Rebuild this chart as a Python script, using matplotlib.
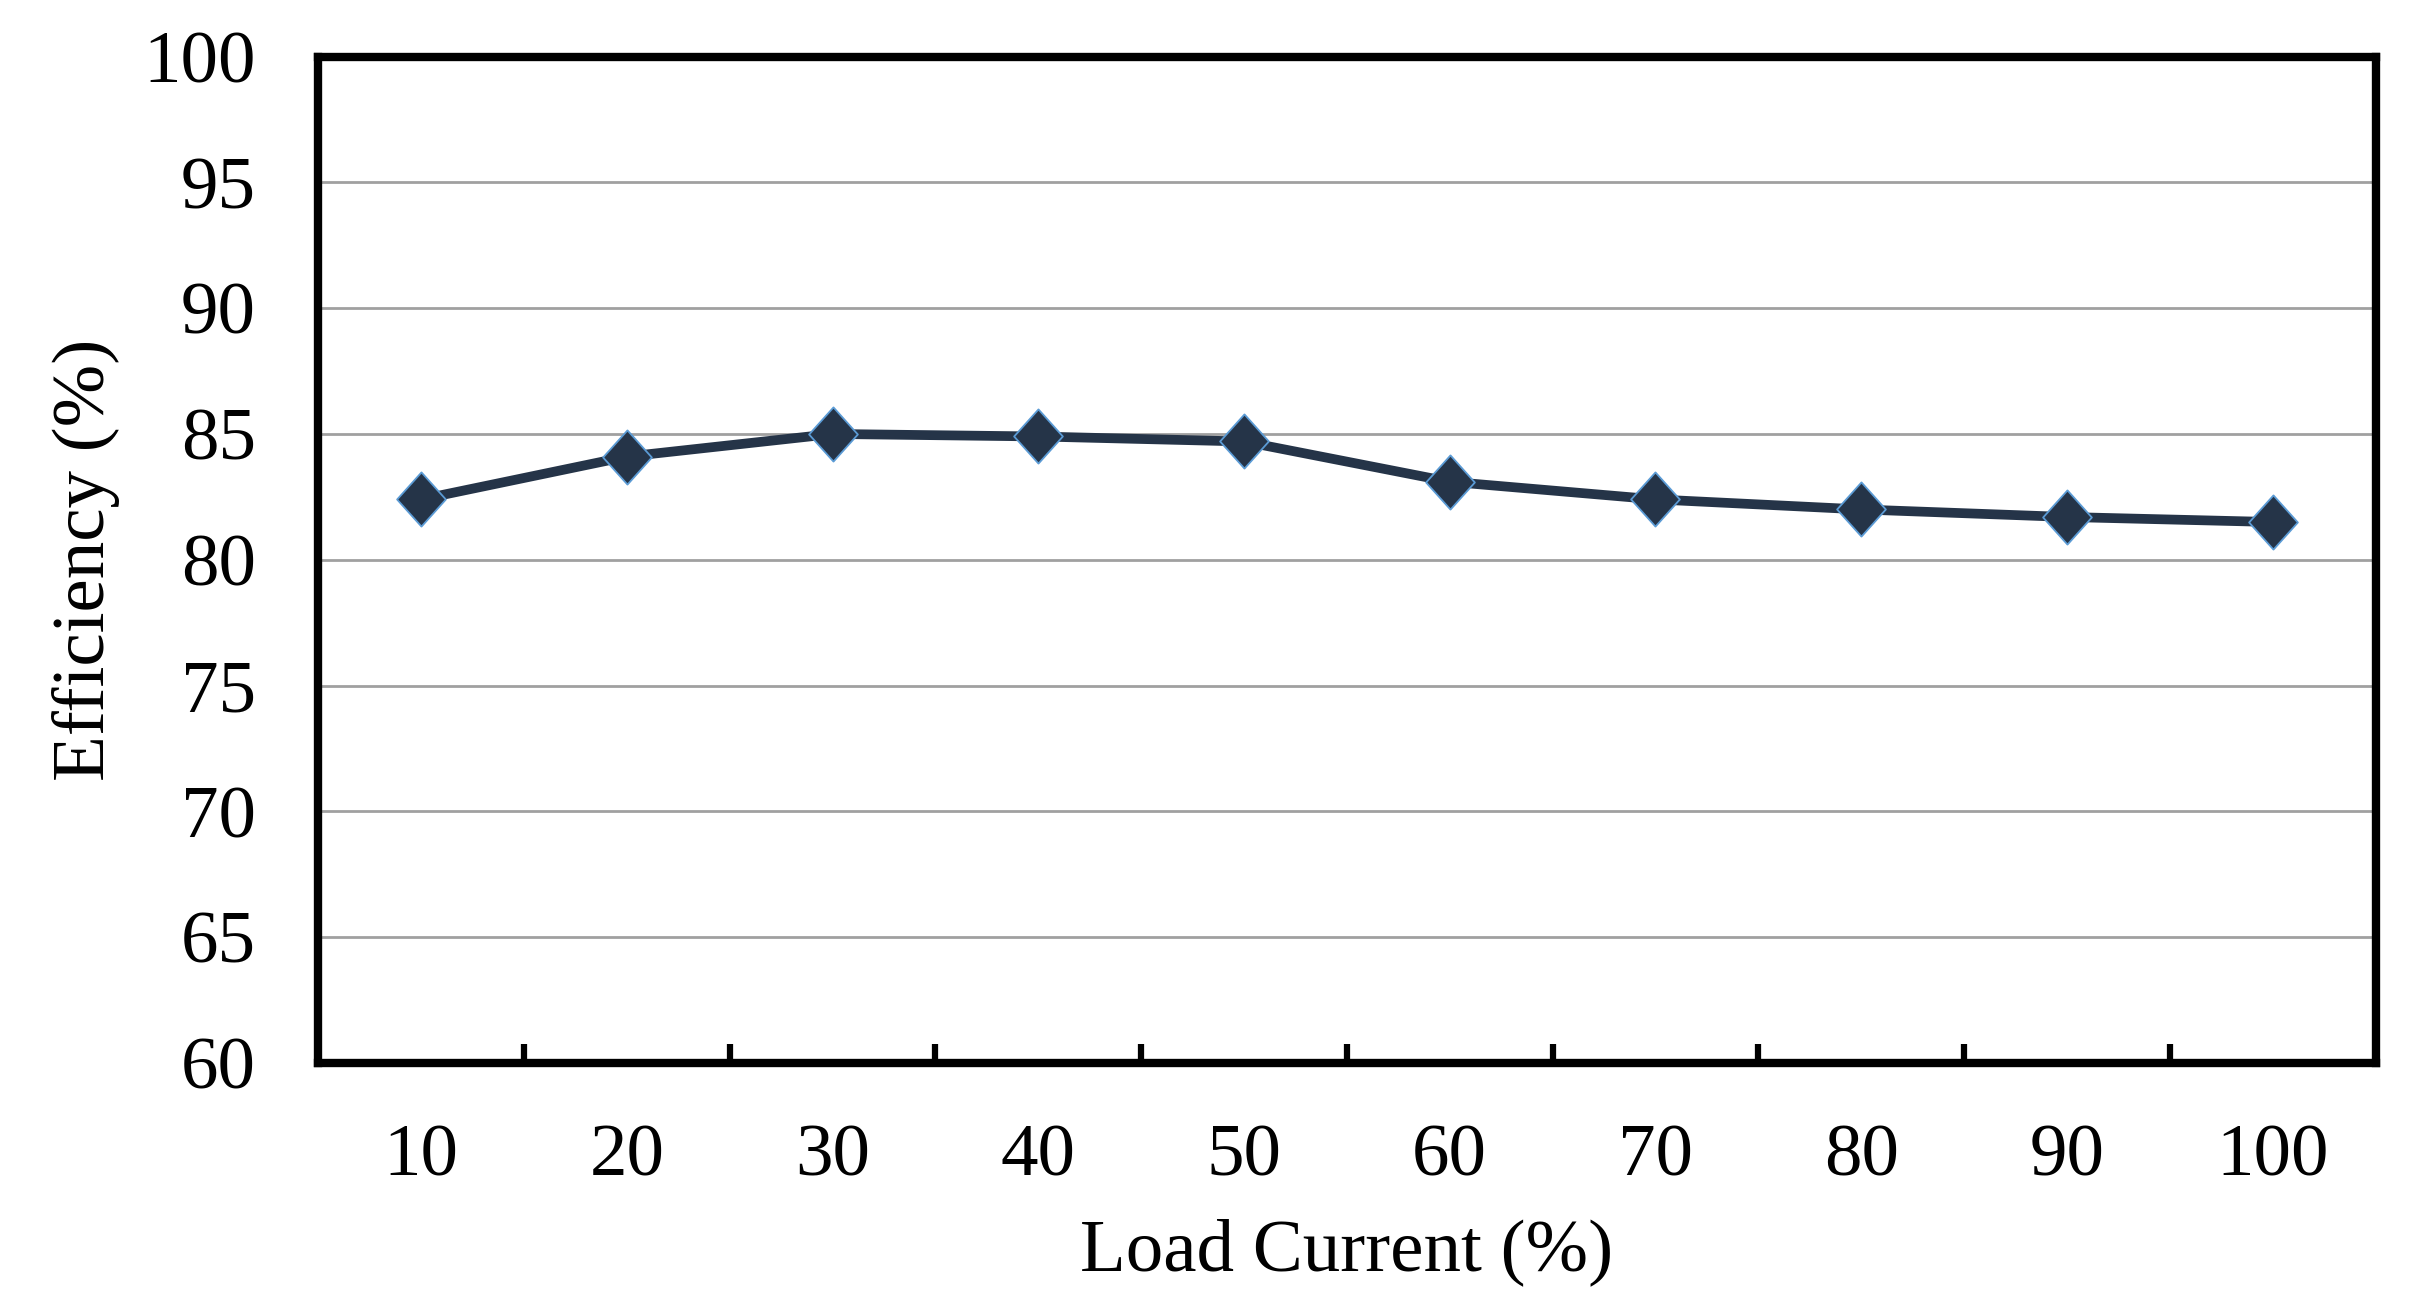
import matplotlib
matplotlib.use('Agg')

import matplotlib.pyplot as plt
from matplotlib.path import Path
import numpy as np

# data
load_current = ['10', '20', '30', '40', '50', '60', '70', '80', '90', '100']
efficiency = [82.4, 84.1, 85.0, 84.9, 84.7, 83.1, 82.4, 82.0, 81.7, 81.5]
y_ticks = [60, 65, 70, 75, 80, 85, 90, 95, 100]

plt.rcParams['font.family'] = ['Liberation Serif', 'DejaVu Serif']

fig = plt.figure(figsize=(24.29, 13.14), dpi=100)
ax = fig.add_axes([0.131, 0.191, 0.847, 0.766])

# slightly tall diamond like the Excel marker
diamond = Path([(0, 1), (0.9, 0), (0, -1), (-0.9, 0), (0, 1)],
               [Path.MOVETO, Path.LINETO, Path.LINETO, Path.LINETO, Path.CLOSEPOLY])

x = np.arange(len(load_current))
ax.plot(x, efficiency, color='#253448', linewidth=7,
        marker=diamond, markersize=39, markerfacecolor='#253448',
        markeredgecolor='#5b9bd5', markeredgewidth=1.3, zorder=3)

ax.set_xlim(-0.5, len(load_current) - 0.5)
ax.set_ylim(60, 100)
ax.set_yticks(y_ticks)
ax.set_xticks(x)
ax.set_xticklabels(load_current)
# category boundary ticks, pointing inward
ax.set_xticks(x[:-1] + 0.5, minor=True)

ax.yaxis.grid(True, color='#a0a0a0', linewidth=2)
ax.set_axisbelow(True)

for sp in ax.spines.values():
    sp.set_linewidth(6)
    sp.set_color('black')

ax.tick_params(axis='y', length=0, pad=45, labelsize=54)
ax.tick_params(axis='x', which='major', length=0, pad=44, labelsize=54)
ax.tick_params(axis='x', which='minor', direction='in', length=14, width=4.5)

ax.set_xlabel('Load Current (%)', fontsize=54, va='center')
ax.set_ylabel('Efficiency (%)', fontsize=54, va='center')
ax.xaxis.set_label_coords(0.5, -0.188)
ax.yaxis.set_label_coords(-0.113, 0.5)

plt.savefig('out.png', dpi=100)
plt.close(fig)
